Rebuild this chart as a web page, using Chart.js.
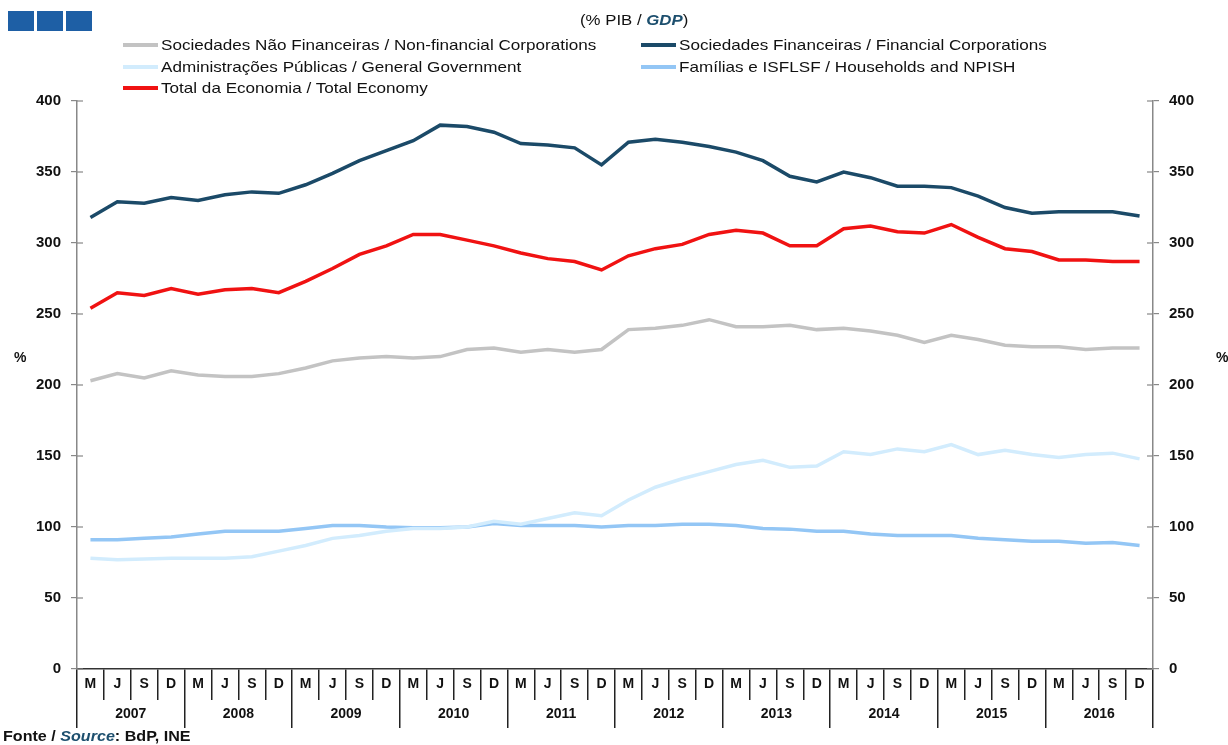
<!DOCTYPE html>
<html><head><meta charset="utf-8">
<script src="https://cdn.jsdelivr.net/npm/chart.js@4"></script>
<style>
html,body{margin:0;padding:0;background:#fff;}
#wrap{position:relative;width:1228px;height:745px;font-family:"Liberation Sans",Arial,sans-serif;}
canvas{position:absolute;left:0;top:0;}
.logo{position:absolute;top:11px;height:20px;width:26px;background:#1e5fa5;}
.title{position:absolute;top:12px;left:580px;font-size:14px;color:#111;transform:scaleX(1.2);transform-origin:left;white-space:nowrap;}
.title i{color:#1d4f6e;font-weight:bold;}
.leg{position:absolute;font-size:15px;color:#111;white-space:nowrap;line-height:18px;}
.leg span.sw{display:inline-block;width:35px;height:4px;vertical-align:middle;margin-right:3px;position:relative;top:-1px;}
.leg span.tx{display:inline-block;transform:scaleX(1.14);transform-origin:left;}
.src{position:absolute;left:3px;top:728px;font-size:14px;font-weight:bold;color:#111;transform:scaleX(1.15);transform-origin:left;white-space:nowrap;}
.src i{color:#1d4f6e;}
.pct{position:absolute;font-size:14px;font-weight:bold;color:#111;}
</style></head>
<body><div id="wrap">
<canvas id="c" width="1228" height="745"></canvas>
<div class="logo" style="left:8px"></div><div class="logo" style="left:37px"></div><div class="logo" style="left:66px"></div>
<div class="title">(% PIB / <i>GDP</i>)</div>
<div id="legend"></div>
<div class="pct" style="left:14px;top:349px">%</div>
<div class="pct" style="left:1216px;top:349px">%</div>
<div class="src">Fonte / <i>Source</i>: BdP, INE</div>
</div>
<script>
const quarters = [];
const years = ["2007","2008","2009","2010","2011","2012","2013","2014","2015","2016"];
years.forEach(()=>{quarters.push("M","J","S","D");});

const nonFinancial = [203,208,205,210,207,206,206,208,212,217,219,220,219,220,225,226,223,225,223,225,239,240,242,246,241,241,242,239,240,238,235,230,235,232,228,227,227,225,226,226];
const financial = [318,329,328,332,330,334,336,335,341,349,358,365,372,383,382,378,370,369,367,355,371,373,371,368,364,358,347,343,350,346,340,340,339,333,325,321,322,322,322,319];
const government = [78,77,77.5,78,78,78,79,83,87,92,94,97,99,99,100,104,102,106,110,108,119,128,134,139,144,147,142,143,153,151,155,153,158,151,154,151,149,151,152,148];
const households = [91,91,92,93,95,97,97,97,99,101,101,100,99.5,99.5,100,102.5,101,101,101,100,101,101,102,102,101,99,98.5,97,97,95,94,94,94,92,91,90,90,88.5,89,87];
const totalEconomy = [254,265,263,268,264,267,268,265,273,282,292,298,306,306,302,298,293,289,287,281,291,296,299,306,309,307,298,298,310,312,308,307,313,304,296,294,288,288,287,287];
const yTicks = [0,50,100,150,200,250,300,350,400];

const series = [
 {label:"Sociedades Não Financeiras / Non-financial Corporations", data:nonFinancial, color:"#c3c3c3", w:3.5, lx:123, ly:36},
 {label:"Sociedades Financeiras / Financial Corporations", data:financial, color:"#1b4a68", w:3.5, lx:641, ly:36},
 {label:"Administrações Públicas / General Government", data:government, color:"#d2ecfd", w:3.5, lx:123, ly:58},
 {label:"Famílias e ISFLSF / Households and NPISH", data:households, color:"#93c6f5", w:3.5, lx:641, ly:58},
 {label:"Total da Economia / Total Economy", data:totalEconomy, color:"#f01212", w:3.5, lx:123, ly:79}
];
const lg = document.getElementById('legend');
series.forEach(s=>{
  const d=document.createElement('div');d.className='leg';
  d.style.left=s.lx+'px';d.style.top=s.ly+'px';
  d.innerHTML='<span class="sw" style="background:'+s.color+'"></span><span class="tx">'+s.label+'</span>';
  lg.appendChild(d);
});

const crossTicks = {
  id:'crossTicks',
  afterDraw(chart){
    const ctx=chart.ctx;
    ctx.save();ctx.strokeStyle='#888';ctx.lineWidth=1.2;
    ['y','y2'].forEach(id=>{
      const sc=chart.scales[id];
      const x = id==='y'?chart.chartArea.left:chart.chartArea.right;
      const dir = id==='y'?1:-1;
      sc.ticks.forEach(t=>{
        const py=sc.getPixelForValue(t.value);
        ctx.beginPath();ctx.moveTo(x,py);ctx.lineTo(x+dir*6,py);ctx.stroke();
      });
    });
    ctx.restore();
  }
};

const yFont = {family:'Liberation Sans',size:15,weight:'bold'};
new Chart(document.getElementById('c'),{
  type:'line',
  data:{labels:quarters,datasets:series.map(s=>({label:s.label,data:s.data,borderColor:s.color,backgroundColor:s.color,borderWidth:s.w,pointRadius:0,tension:0,xAxisID:'x',yAxisID:'y'}))},
  options:{
    responsive:false,animation:false,
    layout:{padding:{top:101,bottom:17,left:0,right:0}},
    plugins:{legend:{display:false},tooltip:{enabled:false}},
    scales:{
      x:{type:'category',position:'bottom',offset:true,
        grid:{offset:true,drawOnChartArea:false,drawTicks:true,tickLength:31,color:'#222',lineWidth:1.5},
        border:{display:true,color:'#333',width:1.5},
        ticks:{color:'#111',font:{family:'Liberation Sans',size:14,weight:'bold'},padding:-24,maxRotation:0,autoSkip:false},
        afterFit(s){s.height=31;}
      },
      x2:{type:'category',position:'bottom',labels:years,offset:true,
        grid:{offset:true,drawOnChartArea:false,drawTicks:true,tickLength:28,color:'#222',lineWidth:1.5},
        border:{display:false},
        ticks:{color:'#111',font:{family:'Liberation Sans',size:14,weight:'bold'},padding:-22,maxRotation:0,autoSkip:false},
        afterFit(s){s.height=28;}
      },
      y:{position:'left',min:0,max:400,
        afterBuildTicks(s){s.ticks=yTicks.map(v=>({value:v}));},
        grid:{drawOnChartArea:false,tickLength:6,color:'#888',lineWidth:1.2},
        border:{display:true,color:'#888',width:1.5},
        ticks:{color:'#111',font:yFont,padding:10},
        afterFit(s){s.width=77;}
      },
      y2:{position:'right',min:0,max:400,
        afterBuildTicks(s){s.ticks=yTicks.map(v=>({value:v}));},
        grid:{drawOnChartArea:false,tickLength:6,color:'#888',lineWidth:1.2},
        border:{display:true,color:'#888',width:1.5},
        ticks:{color:'#111',font:yFont,padding:10},
        afterFit(s){s.width=75;}
      }
    }
  },
  plugins:[crossTicks]
});
</script>
</body></html>
